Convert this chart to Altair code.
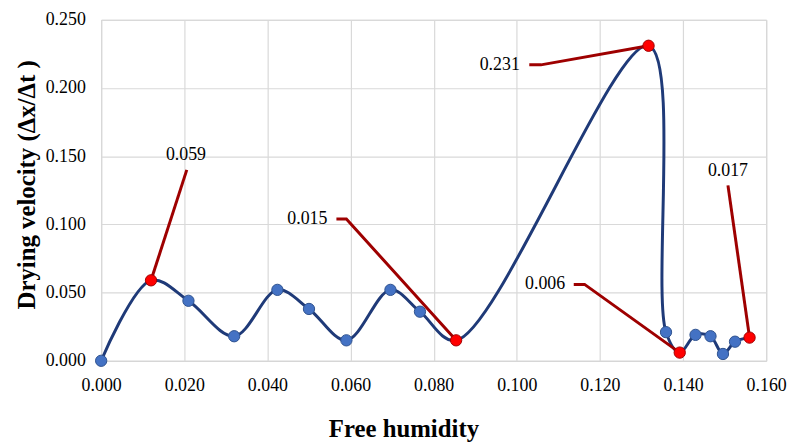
import altair as alt
import pandas as pd

# Data
humidity = [0.000, 0.012, 0.021, 0.032, 0.0424, 0.050, 0.059, 0.0696, 0.0767,
            0.0854, 0.1317, 0.1359, 0.1392, 0.143, 0.1466, 0.1496, 0.1525, 0.156]
velocity = [0.000, 0.059, 0.044, 0.018, 0.052, 0.038, 0.015, 0.052, 0.036,
            0.015, 0.231, 0.021, 0.006, 0.019, 0.018, 0.005, 0.014, 0.017]
highlight = [False, True, False, False, False, False, False, False, False,
             True, True, False, True, False, False, False, False, True]

# Annotations: label text, label position, leader start, leader knee, target point
ann_text = ["0.059", "0.015", "0.231", "0.006", "0.017"]
ann_label_x = [0.0204, 0.0496, 0.0959, 0.1068, 0.1508]
ann_label_y = [0.151, 0.104, 0.217, 0.056, 0.139]
ann_start_x = [0.0206, 0.0566, 0.1030, 0.1137, 0.1508]
ann_start_y = [0.140, 0.104, 0.217, 0.056, 0.1286]
ann_knee_x = [0.0206, 0.0590, 0.1058, 0.1163, 0.1508]
ann_knee_y = [0.140, 0.104, 0.217, 0.056, 0.1286]
ann_target_x = [0.012, 0.0854, 0.1317, 0.1392, 0.156]
ann_target_y = [0.059, 0.015, 0.231, 0.006, 0.017]

x_ticks = [0.0, 0.02, 0.04, 0.06, 0.08, 0.10, 0.12, 0.14, 0.16]
y_ticks = [0.0, 0.05, 0.10, 0.15, 0.20, 0.25]

df = pd.DataFrame({"x": humidity, "y": velocity, "hl": highlight})

rows = []
for i in range(len(ann_text)):
    pts = [(ann_start_x[i], ann_start_y[i]), (ann_knee_x[i], ann_knee_y[i]),
           (ann_target_x[i], ann_target_y[i])]
    for j, (px, py) in enumerate(pts):
        rows.append({"g": i, "o": j, "x": px, "y": py})
leaders = pd.DataFrame(rows)
labels = pd.DataFrame({"t": ann_text, "x": ann_label_x, "y": ann_label_y})

FONT = "Liberation Serif, Times New Roman, serif"

xscale = alt.Scale(domain=[0, 0.16], nice=False, zero=False)
yscale = alt.Scale(domain=[0, 0.25], nice=False)

xaxis = alt.Axis(values=x_ticks, format=".3f", title="Free humidity",
                 tickSize=0, labelPadding=16, titlePadding=22, labelFlush=False,
                 titleX=305, grid=True)
yaxis = alt.Axis(values=y_ticks, format=".3f", title="Drying velocity (Δx/Δt )",
                 tickSize=0, labelPadding=16, titlePadding=6, labelFlush=False,
                 titleY=166, grid=True)

base = alt.Chart(df)

curve = base.mark_line(interpolate="catmull-rom", color="#1F3A78",
                       strokeWidth=3).encode(
    x=alt.X("x:Q", scale=xscale, axis=xaxis),
    y=alt.Y("y:Q", scale=yscale, axis=yaxis),
)

leader = alt.Chart(leaders).mark_line(color="#9E0000", strokeWidth=3).encode(
    x="x:Q", y="y:Q", detail="g:N", order="o:Q"
)

blue_pts = base.transform_filter("!datum.hl").mark_point(
    filled=True, size=130, color="#4472C4", stroke="#2F528F", strokeWidth=1,
    opacity=1).encode(x="x:Q", y="y:Q")

red_pts = base.transform_filter("datum.hl").mark_point(
    filled=True, size=130, color="#FF0000", stroke="#A00000", strokeWidth=1,
    opacity=1).encode(x="x:Q", y="y:Q")

text = alt.Chart(labels).mark_text(font=FONT, fontSize=18, color="black").encode(
    x="x:Q", y="y:Q", text="t:N"
)

chart = alt.layer(curve, leader, blue_pts, red_pts, text).properties(
    width=671, height=344,
    padding={"left": 6, "top": 1, "right": 0, "bottom": 0},
).configure_view(stroke="#BFBFBF", strokeWidth=1).configure_axis(
    labelFont=FONT, labelFontSize=18, labelColor="black",
    titleFont=FONT, titleFontSize=25, titleFontWeight="bold", titleColor="black",
    gridColor="#D9D9D9", gridWidth=1.2, domain=False,
)

chart.save("out.html", embed_options={"renderer": "svg", "actions": False})
